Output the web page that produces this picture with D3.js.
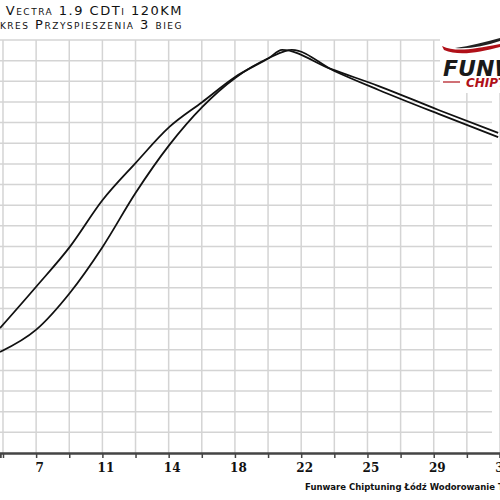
<!DOCTYPE html>
<html><head><meta charset="utf-8">
<script src="https://cdn.jsdelivr.net/npm/d3@7"></script>
<style>body{margin:0;background:#fff}svg{display:block}</style>
</head><body><svg id="c" width="500" height="500"></svg>
<script>
const titleLines = ["Opel Vectra 1.9 CDTi 120KM", "Wykres Przyspieszenia 3 bieg"];
const footer = "Funware Chiptuning Łódź Wodorowanie Tel.";
const tickValues = [7.2, 10.8, 14.4, 18, 21.6, 25.2, 28.8, 32.4];
const seriesAx = [5.24, 7.19, 9.03, 10.81, 12.6, 14.44, 16.23, 18.01, 19.85, 20.56, 23.2, 25.81, 29.06, 32.3];
const seriesAy = [6.05, 8.04, 9.98, 12.25, 14.04, 15.79, 17.0, 18.21, 19.13, 19.52, 18.6, 17.77, 16.61, 15.5];
const seriesBx = [5.24, 7.19, 9.03, 10.81, 12.6, 14.44, 16.23, 18.01, 19.85, 21.1, 23.4, 25.81, 29.06, 32.3];
const seriesBy = [4.89, 5.96, 7.75, 9.98, 12.59, 14.92, 16.76, 18.16, 19.13, 19.52, 18.5, 17.58, 16.42, 15.3];

const svg = d3.select("#c");
const x = d3.scaleLinear().domain([5.4 - 3/33.25*1.8, 32.4]).range([0, 500]);
const y = d3.scaleLinear().domain([0, 20]).range([453, 40]);

const vg = d3.range(0, 16).map(i => 5.4 + i * 1.8);
svg.append("g").selectAll("line").data(vg).join("line")
  .attr("x1", d => x(d)).attr("x2", d => x(d)).attr("y1", y(20)).attr("y2", y(0))
  .attr("stroke", "#d4d4d4").attr("stroke-width", 1.5);
svg.append("g").selectAll("line").data(d3.range(1, 21)).join("line")
  .attr("x1", 0).attr("x2", 492).attr("y1", d => y(d)).attr("y2", d => y(d))
  .attr("stroke", "#d4d4d4").attr("stroke-width", 1.5);

const ax = svg.append("g").attr("transform", `translate(0,${y(0)})`)
  .call(d3.axisBottom(x).tickValues(vg).tickSize(5)
    .tickFormat(d => tickValues.some(t => Math.abs(t - d) < 1e-6) ? d3.format(".0f")(d) : ""));
ax.select(".domain").attr("stroke", "#444").attr("stroke-width", 2.5);
ax.selectAll(".tick line").attr("stroke", "#444").attr("stroke-width", 1.5);
ax.selectAll("text").attr("font-family", "DejaVu Serif, serif").attr("font-weight", "bold")
  .attr("font-size", 12).attr("fill", "#111").attr("dy", "0.9em").attr("dx", "3");

const line = d3.line().x(d => x(d[0])).y(d => y(d[1])).curve(d3.curveMonotoneX);
[[seriesAx, seriesAy], [seriesBx, seriesBy]].forEach(([xs, ys]) => {
  svg.append("path").attr("d", line(xs.map((v, i) => [v, ys[i]])))
    .attr("fill", "none").attr("stroke", "#111").attr("stroke-width", 1.8);
});

titleLines.forEach((t, i) => {
  svg.append("text").attr("x", 183).attr("y", 15 + i * 14).attr("text-anchor", "end")
    .attr("font-family", "DejaVu Sans, sans-serif").attr("font-size", 13)
    .attr("font-variant", "small-caps").attr("letter-spacing", 1.5).attr("fill", "#111").text(t);
});

svg.append("text").attr("x", 305).attr("y", 490)
  .attr("font-family", "DejaVu Sans, sans-serif").attr("font-weight", "bold")
  .attr("font-size", 8.5).attr("fill", "#111").text(footer);

const lg = svg.append("g");
lg.append("rect").attr("x", 440).attr("y", 38).attr("width", 60).attr("height", 55).attr("fill", "#fff");
lg.append("path").attr("d", "M442,46 C455,52 470,50 500,44 L500,47 C478,53 458,56 444,50 Z").attr("fill", "#b01018");
lg.append("path").attr("d", "M455,48 C470,46 485,42 500,38 L500,41 C485,46 470,49 455,48 Z").attr("fill", "#222");
lg.append("text").attr("x", 443).attr("y", 76).attr("font-family", "DejaVu Sans, sans-serif")
  .attr("font-weight", "bold").attr("font-style", "italic").attr("font-size", 22).attr("fill", "#1a1a1a").text("FUNWARE");
lg.append("line").attr("x1", 443).attr("x2", 460).attr("y1", 82).attr("y2", 82).attr("stroke", "#b01018").attr("stroke-width", 1.2);
lg.append("text").attr("x", 466).attr("y", 87).attr("font-family", "DejaVu Sans, sans-serif")
  .attr("font-weight", "bold").attr("font-style", "italic").attr("font-size", 12).attr("fill", "#b01018").text("CHIPTUNING");
</script></body></html>
